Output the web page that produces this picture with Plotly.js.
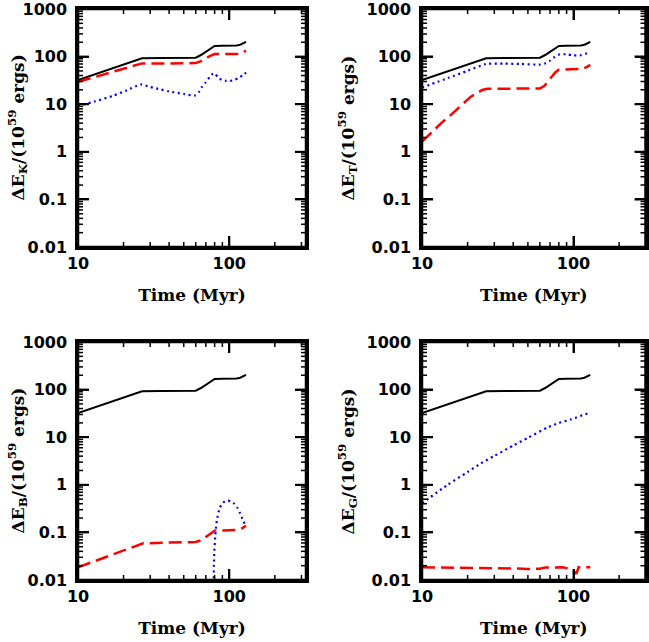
<!DOCTYPE html>
<html>
<head>
<meta charset="utf-8">
<script src="https://cdn.plot.ly/plotly-3.0.1.min.js"></script>
<style>html,body{margin:0;padding:0;background:#fff;}#chart{width:649px;height:642px;}</style>
</head>
<body>
<div id="chart"></div>
<script>
// ---- Total energy (black solid), same in all four panels ----
const tTotal = [10, 15, 20, 26.5, 35, 45, 60, 65, 70, 75, 80, 90, 100, 112, 118, 124, 129];
const eTotal = [32, 50, 68, 92, 93, 94, 95, 108, 128, 150, 168, 170, 170, 172, 178, 190, 204];

// ---- Panel K (kinetic) ----
const tK_red = [10, 15, 20, 26.5, 40, 60, 65, 70, 75, 80, 100, 115, 122, 129];
const eK_red = [29.5, 42.8, 55.6, 72, 72, 73, 80, 92, 104, 113, 113, 114, 122, 133];
const tK_blue = [10, 13, 17, 21, 26, 30, 35, 40, 50, 59, 63, 66, 70, 74, 77, 80, 84, 89, 95, 101, 108, 115, 122, 129];
const eK_blue = [9.1, 11.5, 15, 19.5, 26, 23, 20.5, 18.6, 16.4, 15.2, 18, 23, 29, 37, 42.6, 44.6, 37, 32.4, 31, 30.8, 32.5, 35.5, 40, 45.8];

// ---- Panel T (thermal) ----
const tT_red = [10, 11, 12, 13.5, 15, 16.3, 18, 21, 23, 25, 27, 30, 40, 50, 60, 64, 68, 72, 76, 80, 90, 100, 115, 122, 129];
const eT_red = [1.63, 2.2, 2.87, 4.1, 5.4, 6.95, 9.2, 14.4, 17, 19.9, 21, 21, 21.2, 21, 21.5, 24, 31, 38, 47, 53, 54, 54, 55, 60, 67];
const tT_blue = [10, 15, 20, 26.5, 35, 45, 60, 65, 70, 75, 80, 90, 100, 110, 120, 129];
const eT_blue = [22.3, 35.9, 50.3, 70, 71, 70, 68, 72, 82, 98, 110, 112, 106, 106, 114, 125];

// ---- Panel B (magnetic) ----
const tB_red = [10, 15, 20, 27, 40, 60, 65, 70, 75, 80, 100, 115, 122, 129];
const eB_red = [0.0185, 0.0297, 0.0416, 0.059, 0.061, 0.063, 0.068, 0.08, 0.095, 0.109, 0.111, 0.113, 0.123, 0.138];
const tB_blue = [78.3, 78.6, 79.5, 80.7, 82.8, 86.3, 90.8, 96.6, 102, 107, 113, 118, 124.5, 129];
const eB_blue = [0.001, 0.005, 0.036, 0.081, 0.18, 0.32, 0.42, 0.465, 0.45, 0.41, 0.33, 0.25, 0.167, 0.138];

// ---- Panel G (gravitational) ----
const tG_red = [10, 20, 30, 40, 50, 60, 65, 75, 85, 92, 98, 102, 104.5, 106, 108, 115, 129];
const eG_red = [0.0185, 0.0183, 0.018, 0.0175, 0.017, 0.0172, 0.0182, 0.0186, 0.0185, 0.0175, 0.016, 0.0148, 0.0135, 0.0165, 0.0185, 0.0185, 0.0185];
const tG_blue = [10, 14.7, 20, 24.5, 30, 40.6, 50, 67.6, 80, 96.6, 124.5, 129];
const eG_blue = [0.41, 0.99, 1.86, 2.83, 4.04, 6.86, 9.7, 16.1, 19.8, 23.8, 31.8, 33];

const yTitles = ['K', 'T', 'B', 'G'];
const yTickVals = [0.01, 0.1, 1, 10, 100, 1000];
const yTickText = ['0.01', '0.1', '1', '10', '100', '1000'];
const yMinorVals = [0.02, 0.03, 0.04, 0.05, 0.06, 0.07, 0.08, 0.09,
                    0.2, 0.3, 0.4, 0.5, 0.6, 0.7, 0.8, 0.9,
                    2, 3, 4, 5, 6, 7, 8, 9,
                    20, 30, 40, 50, 60, 70, 80, 90,
                    200, 300, 400, 500, 600, 700, 800, 900];
const xTickVals = [10, 100];
const xTickText = ['10', '100'];
const xMinorVals = [20, 30, 40, 50, 60, 70, 80, 90, 200, 300];

const W = 649, H = 642;

const panels = [
  {red: [tK_red, eK_red], blue: [tK_blue, eK_blue]},
  {red: [tT_red, eT_red], blue: [tT_blue, eT_blue]},
  {red: [tB_red, eB_red], blue: [tB_blue, eB_blue]},
  {red: [tG_red, eG_red], blue: [tG_blue, eG_blue]}
];

// pixel frames: [left, right, top, bottom]
const frames = [
  [78, 306, 9, 247],
  [422, 645.5, 9, 247],
  [78, 306, 342, 580],
  [422, 645.5, 342, 580]
];
const xMax = [2.507, 2.475, 2.507, 2.475];
const yRange = [-2, 3];
const yTitleX = [17.5, 347.5, 17.5, 347.5];

const MAJ = 11, MIN = 5;
const data = [];
const shapes = [];
const layout = {
  width: W, height: H,
  margin: {l: 0, r: 0, t: 0, b: 0},
  showlegend: false,
  font: {family: 'DejaVu Sans', color: '#000000'},
  annotations: [],
  shapes: shapes
};

function axisBase() {
  return {
    type: 'log', showline: true, linewidth: 2.5, linecolor: '#000000', mirror: 'allticks',
    ticks: 'inside', ticklen: MAJ, tickwidth: 1.5, tickcolor: '#000000',
    showgrid: false, zeroline: false,
    tickfont: {family: 'DejaVu Sans', size: 16, color: '#000000', weight: 'bold'}
  };
}

// inward tick marks on all four sides, as line segments on the log axes
function tickTrace(xa, ya, xv, yv, len, pxPerDecX, pxPerDecY, xLoLog, xHiLog, width) {
  const X = [], Y = [];
  const dx = len / pxPerDecX, dy = len / pxPerDecY;
  yv.forEach(v => {
    X.push(Math.pow(10, xLoLog), Math.pow(10, xLoLog + dx), null); Y.push(v, v, null);
    X.push(Math.pow(10, xHiLog), Math.pow(10, xHiLog - dx), null); Y.push(v, v, null);
  });
  xv.forEach(v => {
    X.push(v, v, null); Y.push(Math.pow(10, yRange[0]), Math.pow(10, yRange[0] + dy), null);
    X.push(v, v, null); Y.push(Math.pow(10, yRange[1]), Math.pow(10, yRange[1] - dy), null);
  });
  return {x: X, y: Y, xaxis: xa, yaxis: ya, mode: 'lines', connectgaps: false,
          line: {color: '#000000', width: width}, hoverinfo: 'skip'};
}

panels.forEach((p, i) => {
  const n = i + 1;
  const xa = 'x' + (n === 1 ? '' : n), ya = 'y' + (n === 1 ? '' : n);
  const f = frames[i];
  const pxX = (f[1] - f[0]) / (xMax[i] - 1), pxY = (f[3] - f[2]) / (yRange[1] - yRange[0]);
  data.push({x: tTotal, y: eTotal, xaxis: xa, yaxis: ya, mode: 'lines', line: {color: '#000000', width: 2}, hoverinfo: 'skip'});
  data.push({x: p.red[0], y: p.red[1], xaxis: xa, yaxis: ya, mode: 'lines', line: {color: '#ff0000', width: 2.5, dash: '13px,6px'}, hoverinfo: 'skip'});
  data.push({x: p.blue[0], y: p.blue[1], xaxis: xa, yaxis: ya, mode: 'lines', line: {color: '#0000ff', width: 2.2, dash: '2px,3.5px', shape: 'spline', smoothing: 0.6}, hoverinfo: 'skip'});
  data.push(tickTrace(xa, ya, xTickVals, yTickVals, MAJ, pxX, pxY, 1, xMax[i], 2));
  data.push(tickTrace(xa, ya, xMinorVals, yMinorVals, MIN, pxX, pxY, 1, xMax[i], 1.5));
  layout['xaxis' + (n === 1 ? '' : n)] = Object.assign(axisBase(), {
    domain: [f[0] / W, f[1] / W], range: [1, xMax[i]], anchor: ya,
    tickmode: 'array', tickvals: xTickVals, ticktext: xTickText,
    title: {text: 'Time (Myr)', font: {family: 'DejaVu Serif', size: 17, color: '#000000', weight: 'bold'}, standoff: 18}
  });
  layout['yaxis' + (n === 1 ? '' : n)] = Object.assign(axisBase(), {
    domain: [1 - f[3] / H, 1 - f[2] / H], range: yRange, anchor: xa,
    tickmode: 'array', tickvals: yTickVals, ticktext: yTickText, ticklabeloverflow: 'allow', ticklabelstandoff: 5
  });
  shapes.push({type: 'rect', layer: 'above', xref: xa + ' domain', yref: ya + ' domain', x0: 0, x1: 1, y0: 0, y1: 1, line: {color: '#000000', width: 2.5}});
  layout.annotations.push({
    xref: 'paper', yref: 'paper', x: yTitleX[i] / W, y: 1 - (f[2] + f[3]) / 2 / H,
    xanchor: 'center', yanchor: 'middle', showarrow: false, textangle: -90,
    text: '\u0394E<sub>' + yTitles[i] + '</sub>/(10<sup>59</sup> ergs)',
    font: {family: 'DejaVu Serif', size: 17, color: '#000000', weight: 'bold'}
  });
});

Plotly.newPlot('chart', data, layout, {displayModeBar: false});
</script>
</body>
</html>
